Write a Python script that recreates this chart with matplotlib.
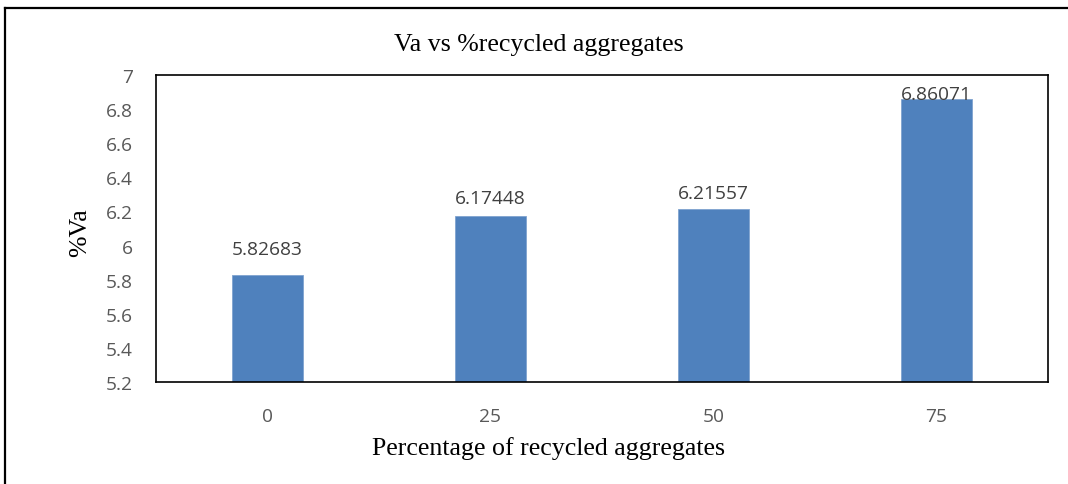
import matplotlib
matplotlib.use("Agg")
import matplotlib.pyplot as plt
from matplotlib.lines import Line2D

# Data
categories = ["0", "25", "50", "75"]
va_values = [5.82683, 6.17448, 6.21557, 6.86071]
value_labels = ["5.82683", "6.17448", "6.21557", "6.86071"]
y_ticks = [5.2, 5.4, 5.6, 5.8, 6.0, 6.2, 6.4, 6.6, 6.8, 7.0]
y_tick_labels = ["5.2", "5.4", "5.6", "5.8", "6", "6.2", "6.4", "6.6", "6.8", "7"]

# Label offsets above each bar (points)
label_offsets = [18.7, 13.0, 11.5, 3.6]

W, H, DPI = 1068, 485, 100
fig = plt.figure(figsize=(W / DPI, H / DPI), dpi=DPI)
fig.patch.set_facecolor("white")

# Outer chart-area border: only the top and left edges fall inside the frame
bx, by = 5.5 / W, 1 - 8.5 / H
fig.add_artist(Line2D([bx, 1.0], [by, by], transform=fig.transFigure,
                      color="black", linewidth=1.6, solid_capstyle="projecting"))
fig.add_artist(Line2D([bx, bx], [0.0, by], transform=fig.transFigure,
                      color="black", linewidth=1.6, solid_capstyle="projecting"))

ax = fig.add_axes([156 / W, 1 - 383 / H, (1048 - 156) / W, (383 - 76) / H])

bar_color = "#4F81BD"
x = list(range(len(categories)))
ax.bar(x, va_values, width=0.314, color=bar_color, edgecolor="#7FA3CF",
       linewidth=0.6, zorder=2)

ax.set_xlim(-0.5, len(categories) - 0.5)
ax.set_ylim(5.2, 7.0)
ax.set_yticks(y_ticks)
ax.set_yticklabels(y_tick_labels)
ax.set_xticks(x)
ax.set_xticklabels(categories)

for lbl in ax.get_yticklabels() + ax.get_xticklabels():
    lbl.set_fontfamily("Open Sans")
    lbl.set_fontsize(13.8)
    lbl.set_color("#595959")

ax.tick_params(axis="y", length=0, pad=23 * 0.72)
ax.tick_params(axis="x", length=0, pad=25 * 0.72)

for side in ["left", "right", "top", "bottom"]:
    ax.spines[side].set_linewidth(1.2)
    ax.spines[side].set_color("black")

# Value labels
for xi, v, txt, off in zip(x, va_values, value_labels, label_offsets):
    ax.annotate(txt, (xi, v), xytext=(0, off), textcoords="offset points",
                ha="center", va="center", fontfamily="Open Sans",
                fontsize=13.8, color="#404040", zorder=3)

serif = "Liberation Serif"
fig.text(539 / W, 1 - 45 / H, "Va vs %recycled aggregates", ha="center",
         va="center", fontfamily=serif, fontsize=18.6, color="black")
fig.text(549 / W, 1 - 449 / H, "Percentage of recycled aggregates",
         ha="center", va="center", fontfamily=serif, fontsize=18.6,
         color="black")
fig.text(80 / W, 1 - 233 / H, "%Va", ha="center", va="center",
         rotation=90, fontfamily=serif, fontsize=18.6, color="black")

fig.savefig("out.png", dpi=DPI, facecolor="white")
